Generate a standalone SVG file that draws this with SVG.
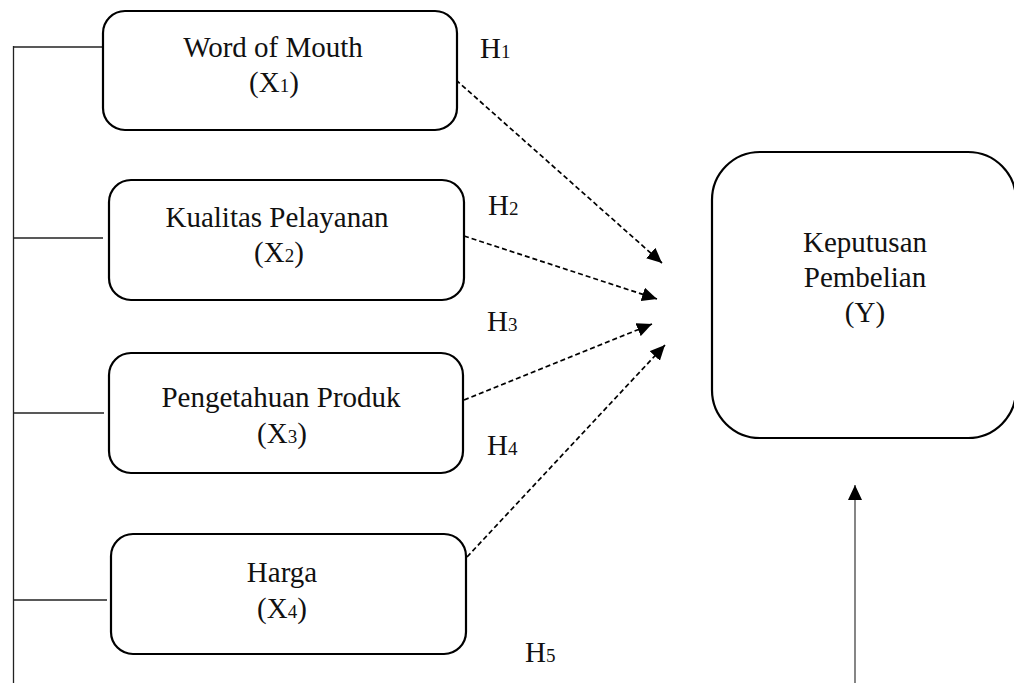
<svg xmlns="http://www.w3.org/2000/svg" width="1014" height="683" viewBox="0 0 1014 683">
<style>
.box{fill:#fff;stroke:#000;stroke-width:2.2}
.t{font-family:"Liberation Serif","Times New Roman",serif;font-size:29px;fill:#111;text-anchor:middle}
.h{font-family:"Liberation Serif","Times New Roman",serif;font-size:29px;fill:#111}
.s{font-size:19px}
.dash{stroke:#000;stroke-width:1.7;stroke-dasharray:5 3;fill:none}
.solid{stroke:#222;stroke-width:1.3;fill:none}
.up{stroke:#444;stroke-width:1.3;fill:none}
</style>
<defs>
<marker id="ah" markerUnits="userSpaceOnUse" markerWidth="16" markerHeight="14" refX="15" refY="7" orient="auto">
<path d="M0,0 L15,7 L0,14 z" fill="#000"/>
</marker>
</defs>
<rect width="1014" height="683" fill="#fff"/>
<g id="connectors">
<path class="solid" d="M13.5,46 V683"/>
<path class="solid" d="M13.5,47 H107"/>
<path class="solid" d="M13.5,238 H103"/>
<path class="solid" d="M13.5,413 H104"/>
<path class="solid" d="M13.5,600 H107"/>
<path class="dash" d="M456,80 L662,263" marker-end="url(#ah)"/>
<path class="dash" d="M464,236 L657,299" marker-end="url(#ah)"/>
<path class="dash" d="M464,400 L652,324" marker-end="url(#ah)"/>
<path class="dash" d="M467,557 L665,345" marker-end="url(#ah)"/>
<path class="up" d="M855,683 V485" marker-end="url(#ah)"/>
</g>
<g id="x1">
<rect class="box" x="103" y="11" width="354" height="119" rx="22"/>
<text class="t" x="273" y="57">Word of Mouth</text>
<text class="t" x="274" y="92">(X<tspan class="s">1</tspan>)</text>
</g>
<g id="x2">
<rect class="box" x="109" y="180" width="355" height="120" rx="22"/>
<text class="t" x="277" y="227">Kualitas Pelayanan</text>
<text class="t" x="279" y="262">(X<tspan class="s">2</tspan>)</text>
</g>
<g id="x3">
<rect class="box" x="109" y="353" width="354" height="120" rx="22"/>
<text class="t" x="281" y="407">Pengetahuan Produk</text>
<text class="t" x="282" y="443">(X<tspan class="s">3</tspan>)</text>
</g>
<g id="x4">
<rect class="box" x="111" y="534" width="355" height="120" rx="22"/>
<text class="t" x="282" y="582">Harga</text>
<text class="t" x="282" y="618">(X<tspan class="s">4</tspan>)</text>
</g>
<g id="y">
<rect class="box" x="712" y="152" width="304" height="286" rx="48"/>
<text class="t" x="865" y="252">Keputusan</text>
<text class="t" x="865" y="287">Pembelian</text>
<text class="t" x="865" y="322">(Y)</text>
</g>
<g id="labels">
<text class="h" x="480" y="58">H<tspan class="s">1</tspan></text>
<text class="h" x="488" y="215">H<tspan class="s">2</tspan></text>
<text class="h" x="487" y="331">H<tspan class="s">3</tspan></text>
<text class="h" x="487" y="455">H<tspan class="s">4</tspan></text>
<text class="h" x="525" y="662">H<tspan class="s">5</tspan></text>
</g>
</svg>
